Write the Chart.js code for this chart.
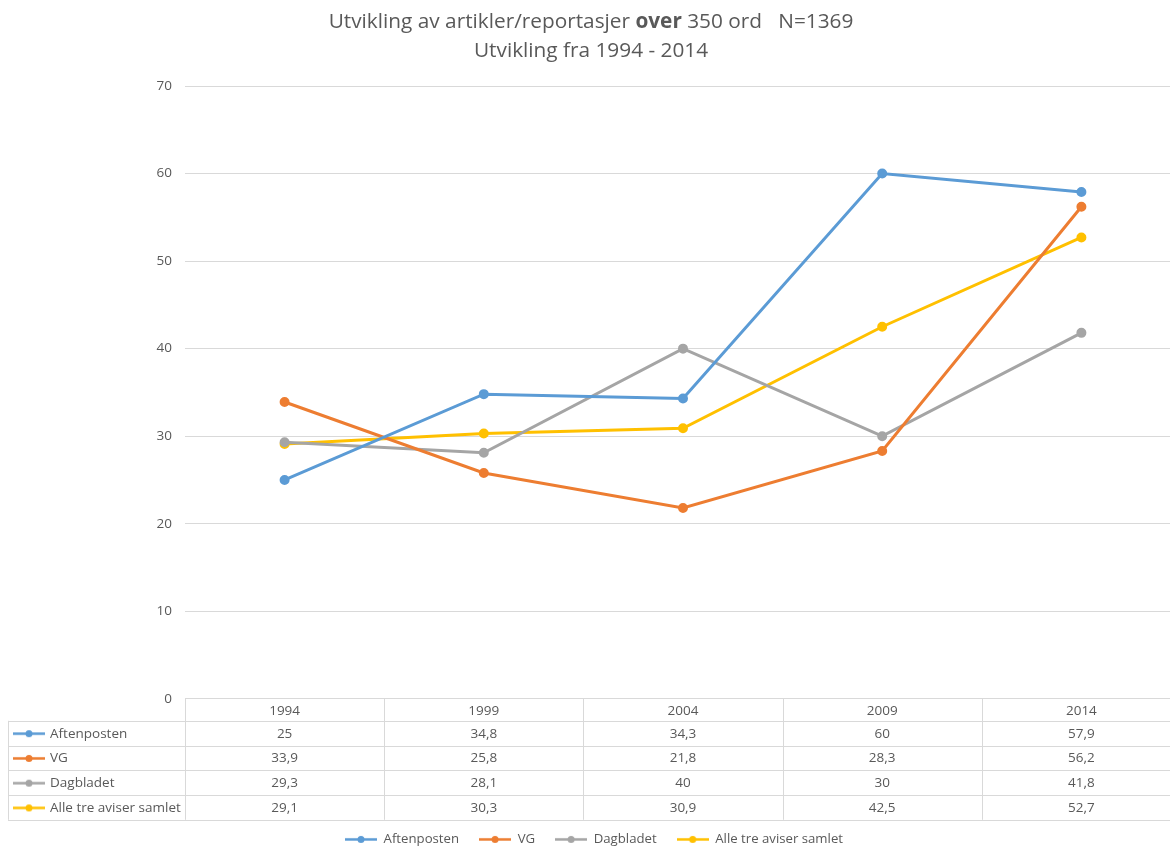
<!DOCTYPE html>
<html>
<head>
<meta charset="utf-8">
<script src="https://cdn.jsdelivr.net/npm/chart.js@4.4.0/dist/chart.umd.min.js"></script>
<style>
    html, body { margin: 0; padding: 0; overflow: hidden; background: #fff; }
    #myChart { position: absolute; left: 0; top: 0; }
</style>
</head>
<body>
<canvas id="myChart" width="1188" height="856"></canvas>
<script>
    // chart data
    const years = ['1994', '1999', '2004', '2009', '2014'];
    const seriesNames = ['Aftenposten', 'VG', 'Dagbladet', 'Alle tre aviser samlet'];
    const aftenposten = [25, 34.8, 34.3, 60, 57.9];
    const vg = [33.9, 25.8, 21.8, 28.3, 56.2];
    const dagbladet = [29.3, 28.1, 40, 30, 41.8];
    const alleTre = [29.1, 30.3, 30.9, 42.5, 52.7];
    const seriesColors = ['#5B9BD5', '#ED7D31', '#A5A5A5', '#FFC000'];
    const titleLine1 = [['Utvikling av artikler/reportasjer ', false], ['over', true], [' 350 ord   N=1369', false]];
    const titleLine2 = 'Utvikling fra 1994 - 2014';

    const FONT = '"Open Sans", Lato, sans-serif';
    const TEXT = '#595959';
    const GRID = '#d9d9d9';

    function fmt(v) {
        return String(v).replace('.', ',');
    }

    function markerImage(color) {
        const c = document.createElement('canvas');
        c.width = 32;
        c.height = 9;
        const g = c.getContext('2d');
        g.strokeStyle = color;
        g.lineWidth = 2.5;
        g.beginPath();
        g.moveTo(0, 4.5);
        g.lineTo(32, 4.5);
        g.stroke();
        g.fillStyle = color;
        g.beginPath();
        g.arc(16, 4.5, 3.5, 0, Math.PI * 2);
        g.fill();
        return c;
    }
    const markers = seriesColors.map(markerImage);

    const titlePlugin = {
        id: 'mixedTitle',
        afterDraw(chart) {
            const ctx = chart.ctx;
            const cx = 591;
            ctx.save();
            ctx.fillStyle = TEXT;
            ctx.textBaseline = 'middle';
            ctx.textAlign = 'left';
            let total = 0;
            titleLine1.forEach(([t, b]) => {
                ctx.font = (b ? 'bold ' : '') + '20.8px ' + FONT;
                total += ctx.measureText(t).width;
            });
            let x = cx - total / 2;
            titleLine1.forEach(([t, b]) => {
                ctx.font = (b ? 'bold ' : '') + '20.8px ' + FONT;
                ctx.fillText(t, x, 22);
                x += ctx.measureText(t).width;
            });
            ctx.font = '20.8px ' + FONT;
            ctx.textAlign = 'center';
            ctx.fillText(titleLine2, cx, 51);
            ctx.restore();
        }
    };

    const tablePlugin = {
        id: 'dataTable',
        afterDraw(chart) {
            const ctx = chart.ctx;
            const xs = chart.scales.x;
            const area = chart.chartArea;
            const top = area.bottom;
            const headH = 22;
            const rowH = 24.75;
            const left = 8;
            const right = chart.width;
            const colW = (area.right - area.left) / years.length;
            const rows = chart.data.datasets;
            const bottom = top + headH + rowH * rows.length;

            ctx.save();
            ctx.strokeStyle = GRID;
            ctx.lineWidth = 1;
            ctx.beginPath();
            for (let i = 0; i <= rows.length; i++) {
                const y = Math.round(top + headH + rowH * i) + 0.5;
                ctx.moveTo(left, y);
                ctx.lineTo(right, y);
            }
            ctx.moveTo(left + 0.5, top + headH);
            ctx.lineTo(left + 0.5, bottom);
            for (let i = 0; i <= years.length; i++) {
                const x = Math.round(area.left + colW * i) + 0.5;
                ctx.moveTo(x, top);
                ctx.lineTo(x, bottom);
            }
            ctx.stroke();

            ctx.fillStyle = TEXT;
            ctx.font = '13.5px ' + FONT;
            ctx.textBaseline = 'middle';
            ctx.textAlign = 'center';
            years.forEach((yr, i) => {
                ctx.fillText(yr, xs.getPixelForValue(i), top + headH / 2 + 1.5);
            });
            rows.forEach((ds, r) => {
                const cy = top + headH + rowH * r + rowH / 2 + 0.5;
                ds.data.forEach((v, i) => {
                    ctx.fillText(fmt(v), xs.getPixelForValue(i), cy);
                });
                ctx.drawImage(markers[r], 13, cy - 4.5);
                ctx.textAlign = 'left';
                ctx.fillText(ds.label, 50, cy);
                ctx.textAlign = 'center';
            });
            ctx.restore();
        }
    };

    const seriesData = [aftenposten, vg, dagbladet, alleTre];
    const datasets = seriesNames.map((name, i) => ({
        label: name,
        data: seriesData[i],
        borderColor: seriesColors[i],
        backgroundColor: seriesColors[i],
        borderWidth: 3,
        pointRadius: 3.5,
        pointHoverRadius: 4,
        tension: 0
    }));

    new Chart(document.getElementById('myChart').getContext('2d'), {
        type: 'line',
        data: {
            labels: years,
            datasets: datasets
        },
        options: {
            responsive: false,
            animation: false,
            layout: {
                padding: { top: 86, left: 0, right: 0, bottom: 0 }
            },
            plugins: {
                title: { display: false },
                tooltip: { enabled: false },
                legend: {
                    position: 'bottom',
                    labels: {
                        usePointStyle: true,
                        pointStyleWidth: 32,
                        padding: 20,
                        color: TEXT,
                        font: { family: FONT, size: 13.2 },
                        generateLabels: (chart) => {
                            const items = Chart.defaults.plugins.legend.labels.generateLabels(chart);
                            items.forEach((it, i) => { it.pointStyle = markers[i]; });
                            return items;
                        }
                    }
                }
            },
            scales: {
                x: {
                    offset: true,
                    grid: { display: false },
                    border: { display: false },
                    ticks: { display: false },
                    afterFit: (scale) => { scale.height = 114; }
                },
                y: {
                    min: 0,
                    max: 70,
                    ticks: {
                        stepSize: 10,
                        padding: 13,
                        color: TEXT,
                        font: { family: FONT, size: 13.5 }
                    },
                    grid: { color: GRID, drawTicks: false },
                    border: { display: false },
                    afterFit: (scale) => { scale.width = 185; }
                }
            }
        },
        plugins: [titlePlugin, tablePlugin]
    });
</script>
</body>
</html>
